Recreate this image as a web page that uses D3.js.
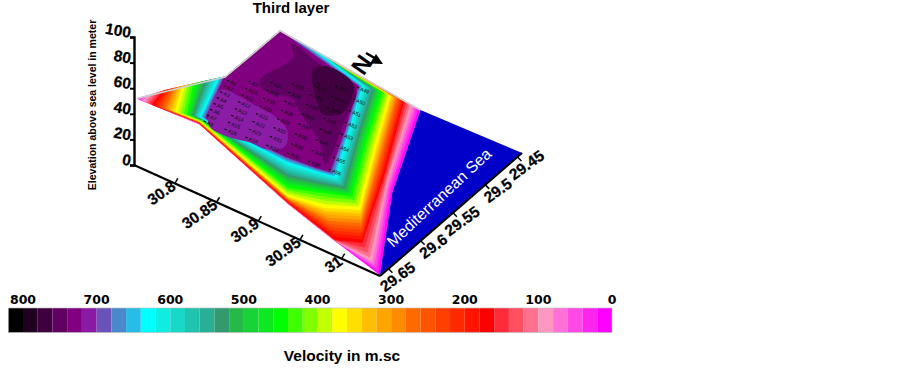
<!DOCTYPE html>
<html><head><meta charset="utf-8">
<script src="https://cdn.jsdelivr.net/npm/d3@7/dist/d3.min.js"></script>
<style>html,body{margin:0;padding:0;background:#fff}svg{display:block}text{font-family:"Liberation Sans",Arial,sans-serif}</style>
</head><body><svg id="c" width="902" height="368"><defs><filter id="soft" x="-5%" y="-5%" width="110%" height="110%"><feGaussianBlur stdDeviation="0.45"/></filter></defs></svg>
<script>
const chartTitle = "Third layer";
const legendTitle = "Velocity in m.sc";
const elevationTitle = "Elevation above sea level in meter";
const elevationTicks = [0,20,40,60,80,100];
const latTicks = [30.8,30.85,30.9,30.95,31];
const lonTicks = [29.65,29.6,29.55,29.5,29.45];
const legendTicks = [800,700,600,500,400,300,200,100,0];
const legendColors = ["#000000","#200020","#400040","#600060","#800080","#8a1aa6","#6b52b8","#4a88cc","#28bce6","#00ffff","#10ecdf","#18d8c8","#20c4ae","#2aae94","#339a70","#26b848","#18d238","#0ee820","#00ff00","#40ff00","#80ff00","#bfff00","#ffff00","#ffdf00","#ffbf00","#ffa500","#ff8c00","#ff6a00","#ff5500","#ff4000","#ff2a00","#ff1500","#ff0000","#ff2a3a","#ff4f60","#ff7090","#ff98c0","#ff70d8","#ff48e4","#ff24f0","#ff00ff"];

// Iso-velocity rings read from the surface; each row is one velocity, each column one control line
const ringVelocity = [0,80,160,360,440,620,700];
const ringLat = [
 [30.751,30.752,30.758,30.928,30.928,30.987,31.045,30.9846,30.9311,30.8314,30.751],
 [30.7461,30.752,30.758,30.9189,30.9189,30.9781,31.0305,30.9846,30.9311,30.8297,30.753],
 [30.7459,30.752,30.758,30.9092,30.9092,30.969,31.0088,30.9837,30.9302,30.828,30.7615],
 [30.7457,30.752,30.758,30.8681,30.8971,30.9414,30.9818,30.957,30.927,30.8264,30.7837],
 [30.7447,30.752,30.758,30.838,30.8872,30.9302,30.966,30.9433,30.9234,30.8247,30.8005],
 [30.7497,30.752,30.758,30.8083,30.8691,30.9124,30.9407,30.9266,30.9062,30.823,30.8172],
 [30.7516,30.752,30.758,30.7724,30.8651,30.9065,30.9305,30.9204,30.8983,30.8239,30.8159]];
const ringLon = [
 [29.6585,29.5232,29.4458,29.4479,29.4479,29.5678,29.6618,29.6532,29.6569,29.6646,29.6585],
 [29.6319,29.5232,29.4458,29.449,29.449,29.5642,29.6551,29.6532,29.6569,29.6639,29.6516],
 [29.6114,29.5232,29.4458,29.4488,29.4488,29.5569,29.6425,29.652,29.6558,29.6632,29.6487],
 [29.5816,29.5232,29.4458,29.4484,29.4549,29.5352,29.6108,29.6331,29.6517,29.6581,29.6416],
 [29.5633,29.5232,29.4458,29.4482,29.4544,29.5348,29.6027,29.62,29.647,29.6528,29.6447],
 [29.531,29.5232,29.4458,29.4486,29.4605,29.5381,29.5949,29.6046,29.6249,29.6476,29.6461],
 [29.5243,29.5232,29.4458,29.4487,29.4632,29.5368,29.5911,29.5998,29.6177,29.6425,29.6353]];
const ringElev = [
 [50,8,12,1,1,6,0,5,20,56,50],
 [40,8,12,2,2,8,3,5,20,56,46],
 [34,8,12,3,3,10,6,5,20,56,44],
 [24,8,12,4,6,12,10,14,22,54,42],
 [18,8,12,6,6,14,12,16,26,52,46],
 [10,8,12,10,8,18,16,20,30,50,50],
 [8,8,12,12,8,18,16,20,30,48,44]];

// Patches inside the surveyed block
const innerElev = 30;
const blobVelocity = [720,700,740,760];
const blobLat = [
 null,
 [30.7867,30.8073,30.8298,30.8498,30.8744,30.8883,30.8768,30.8571,30.8335,30.8093,30.7887],
 [30.8011,30.8137,30.8076,30.8191,30.8519,30.8693,30.9124,30.9363,30.9111,30.8925,30.8414],
 [30.8403,30.8487,30.8856,30.9032,30.8892,30.8736]];
const blobLon = [
 null,
 [29.5728,29.5714,29.5742,29.5751,29.5853,29.6063,29.6194,29.6202,29.6254,29.622,29.5893],
 [29.4827,29.4975,29.5408,29.551,29.5468,29.5584,29.583,29.6063,29.5428,29.5016,29.4913],
 [29.501,29.4899,29.4973,29.5355,29.5485,29.5376]];

// Sea block
const seaLat = [30.928,31.0462,31.045,30.987];
const seaLon = [29.4479,29.4429,29.6618,29.5678];
const seaElev = [1,0,0,6];

// Survey stations: corners back-left, back-right, front-right, front-left
const wellCols = 7, wellRows = 8;
const wellLat = [30.7833,30.8922,30.9447,30.8024];
const wellLon = [29.559,29.4982,29.6095,29.6194];

const svg = d3.select("#c");
const latX = d3.scaleLinear([30.751,31.046],[0,246]);
const latY = d3.scaleLinear([30.751,31.046],[0,111]);
const lonX = d3.scaleLinear([29.663,29.443],[0,142]);
const lonY = d3.scaleLinear([29.663,29.443],[0,-123]);
const elevY = d3.scaleLinear([0,100],[165,37]);
const originX = 134;
const px = (lat,lon,z)=>[originX+latX(lat)+lonX(lon), elevY(z)+latY(lat)+lonY(lon)];
const line = d3.line();
const closed = d3.line().curve(d3.curveLinearClosed);

const legendX = d3.scaleLinear([800,0],[23,612]);
const cellW = legendX(780)-legendX(800);
const vel = i=>800-20*i;
const colorOf = v=>legendColors[Math.round((800-v)/20)];

// Elevation axis sits behind the surface
const yAxis = svg.append("g").attr("transform",`translate(${originX},0)`)
  .call(d3.axisLeft(elevY).tickValues(elevationTicks).tickSize(4).tickFormat(""));
yAxis.selectAll("path,line").attr("stroke","#000").attr("stroke-width",2);
yAxis.select(".domain").attr("stroke-width",2.4);

// Surface bands
const nSpokes = ringLat[0].length;
const spoke = t=>d3.range(nSpokes).map(s=>d3.scaleLinear(ringVelocity,t.map(r=>r[s])).clamp(true));
const sLat = spoke(ringLat), sLon = spoke(ringLon), sElev = spoke(ringElev);
const thresholds = d3.range(0,721,20);
const gS = svg.append("g").attr("filter","url(#soft)");
gS.selectAll("path.band").data(thresholds).join("path").attr("class","band")
  .attr("d",v=>closed(d3.range(nSpokes).map(s=>px(sLat[s](v),sLon[s](v),sElev[s](v)))))
  .attr("fill",v=>colorOf(v)).attr("stroke",v=>colorOf(v)).attr("stroke-width",0.3);

// Inner patches
const blobs = blobVelocity.map((v,i)=>({v,i})).filter(d=>blobLat[d.i]);
gS.selectAll("path.blob").data(blobs).join("path").attr("class","blob")
  .attr("d",d=>d3.line().curve(d3.curveCatmullRomClosed)(blobLat[d.i].map((la,k)=>px(la,blobLon[d.i][k],innerElev))))
  .attr("fill",d=>colorOf(d.v));

// Sea
gS.append("path").attr("d",closed(seaLat.map((la,k)=>px(la,seaLon[k],seaElev[k])))).attr("fill","#0000c8");

// Rim along the back
const rim = [0,1,2,3].map(s=>px(ringLat[0][s],ringLon[0][s],ringElev[0][s]));
gS.append("path").attr("d",line(rim)).attr("fill","none").attr("stroke","#cfcfcf").attr("stroke-width",1.6);

// Stations
const lerp = (a,b,t)=>a+(b-a)*t;
const wells = [];
for(let c=0;c<wellCols;c++)for(let r=0;r<wellRows;r++){
  const tc=c/(wellCols-1), tr=r/(wellRows-1);
  const f=arr=>lerp(lerp(arr[0],arr[1],tc),lerp(arr[3],arr[2],tc),tr);
  wells.push({name:"A"+(8*c+r+1),p:px(f(wellLat),f(wellLon),innerElev)});
}
const gW = svg.append("g").selectAll("g").data(wells).join("g").attr("transform",d=>`translate(${d.p[0]},${d.p[1]}) rotate(22)`);
gW.append("rect").attr("x",-1.5).attr("y",-0.6).attr("width",2.5).attr("height",1.1).attr("fill","#000");
gW.append("text").attr("x",2.5).attr("y",2).attr("font-size",5.2).attr("fill","#111").text(d=>d.name);

// Axes
const gA = svg.append("g");
const corner0=[originX,elevY(0)], corner1=[originX+246,elevY(0)+111], corner2=[originX+246+142,elevY(0)+111-123];
gA.append("path").attr("d",line([corner0,corner1])).attr("fill","none").attr("stroke","#000").attr("stroke-width",2.2);
gA.append("path").attr("d",line([corner1,corner2])).attr("fill","none").attr("stroke","#000").attr("stroke-width",2.2);

svg.append("g").selectAll("text").data(elevationTicks).join("text")
  .attr("transform",d=>`translate(${originX-4},${elevY(d)+1}) rotate(10)`)
  .attr("text-anchor","end").attr("font-weight","bold").attr("font-size",15.5).attr("fill","#000")
  .attr("stroke","#000").attr("stroke-width",0.25).text(d=>d);

const latLow = 29.663, lonHigh = 31.046;
svg.append("g").selectAll("g").data(latTicks).join("g")
  .attr("transform",d=>{const p=px(d,latLow,0);return `translate(${p[0]},${p[1]})`;})
  .call(g=>g.append("line").attr("x2",3).attr("y2",-5).attr("stroke","#000").attr("stroke-width",1.5))
  .call(g=>g.append("text").attr("transform","translate(2,5) rotate(-35)").attr("text-anchor","end")
      .attr("font-weight","bold").attr("font-size",15.5).attr("fill","#000").attr("stroke","#000").attr("stroke-width",0.25).text(d=>d));

svg.append("g").selectAll("g").data(lonTicks).join("g")
  .attr("transform",d=>{const p=px(lonHigh,d,0);return `translate(${p[0]},${p[1]})`;})
  .call(g=>g.append("line").attr("x2",4).attr("y2",4).attr("stroke","#000").attr("stroke-width",1.5))
  .call(g=>g.append("text").attr("transform","translate(28,1) rotate(-36)").attr("text-anchor","end")
      .attr("font-weight","bold").attr("font-size",15.5).attr("fill","#000").attr("stroke","#000").attr("stroke-width",0.25).text(d=>d));

// Titles
svg.append("text").attr("x",291).attr("y",13).attr("text-anchor","middle").attr("font-weight","bold").attr("font-size",15).text(chartTitle);
svg.append("text").attr("transform","translate(96,105) rotate(-90)").attr("text-anchor","middle").attr("font-weight","bold").attr("font-size",10.5).text(elevationTitle);
svg.append("text").attr("transform","translate(393,248) rotate(-43)").attr("fill","#fff").attr("font-size",16).text("Mediterranean Sea");

// North arrow
const gN = svg.append("g");
gN.append("text").attr("transform","translate(355,60) rotate(125)").attr("text-anchor","middle").attr("font-weight","bold").attr("font-size",24).text("N");
gN.append("path").attr("d","M366,53 L378,60").attr("stroke","#000").attr("stroke-width",2.6).attr("fill","none");
gN.append("path").attr("d","M383,64 L370,63.5 L376,54 Z").attr("fill","#000");

// Legend
const gL = svg.append("g");
gL.selectAll("rect").data(legendColors).join("rect")
  .attr("x",(d,i)=>legendX(vel(i))-cellW).attr("y",308).attr("width",cellW).attr("height",24.5).attr("fill",d=>d);
gL.append("rect").attr("x",legendX(800)-cellW).attr("y",308).attr("width",legendX(0)-legendX(800)+cellW).attr("height",24.5).attr("fill","none").attr("stroke","#bbb").attr("stroke-width",0.6);
gL.selectAll("text.t").data(legendTicks).join("text").attr("class","t")
  .attr("x",d=>legendX(d)).attr("y",304).attr("text-anchor","middle").attr("font-size",12.5).attr("font-weight","bold")
  .attr("style",'font-family:"DejaVu Sans"').text(d=>d);
svg.append("text").attr("x",342).attr("y",361).attr("text-anchor","middle").attr("font-weight","bold").attr("font-size",15.5).text(legendTitle);
</script></body></html>
